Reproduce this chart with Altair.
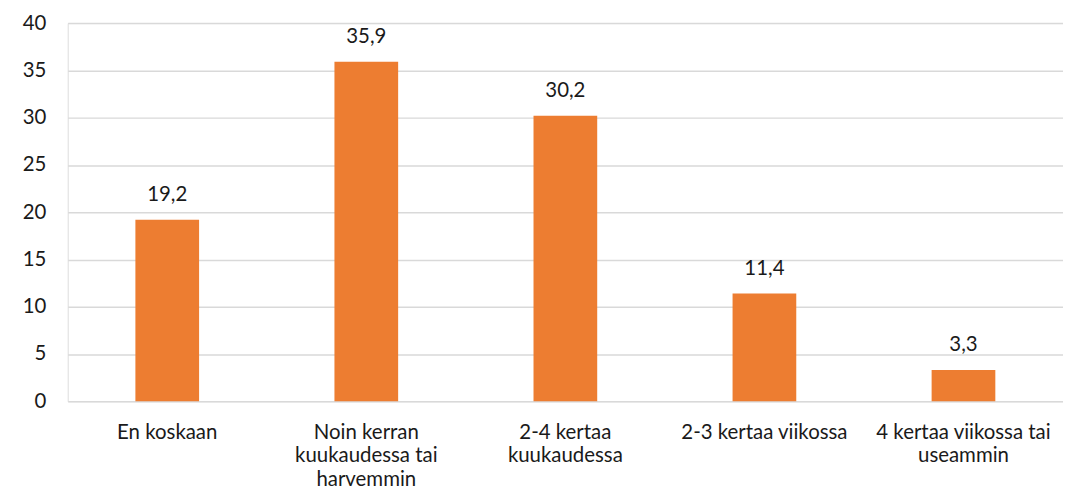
import altair as alt
import pandas as pd
import json

categories = [
    "En koskaan",
    "Noin kerran kuukaudessa tai harvemmin",
    "2-4 kertaa kuukaudessa",
    "2-3 kertaa viikossa",
    "4 kertaa viikossa tai useammin",
]
label_lines = [
    ["En koskaan"],
    ["Noin kerran", "kuukaudessa tai", "harvemmin"],
    ["2-4 kertaa", "kuukaudessa"],
    ["2-3 kertaa viikossa"],
    ["4 kertaa viikossa tai", "useammin"],
]
values = [19.2, 35.9, 30.2, 11.4, 3.3]

df = pd.DataFrame({"cat": categories, "value": values})
label_map = json.dumps(dict(zip(categories, label_lines)), ensure_ascii=False)

FONT = "Lato"
TEXT = "#1a1a1a"
FS = 20.5

x = alt.X(
    "cat:N",
    sort=categories,
    title=None,
    scale=alt.Scale(paddingInner=0.68, paddingOuter=0.34),
    axis=alt.Axis(
        labelAngle=0,
        labelExpr=f"{label_map}[datum.label]",
        labelFont=FONT,
        labelFontSize=FS,
        labelColor=TEXT,
        labelLineHeight=24,
        labelPadding=21,
        labelBaseline="top",
        labelLimit=0,
        ticks=False,
        domain=False,
        grid=False,
    ),
)

bars = alt.Chart(df).mark_bar(color="#ED7D31").encode(
    x=x,
    y=alt.Y(
        "value:Q",
        title=None,
        scale=alt.Scale(domain=[0, 40]),
        axis=alt.Axis(
            values=[0, 5, 10, 15, 20, 25, 30, 35, 40],
            labelFont=FONT,
            labelFontSize=FS,
            labelColor=TEXT,
            labelPadding=22,
            ticks=False,
            domain=False,
            grid=True,
            gridColor="#D9D9D9",
            gridWidth=1.5,
        ),
    ),
)

labels = alt.Chart(df).transform_calculate(
    lab="replace(format(datum.value, '.1f'), '.', ',')"
).mark_text(
    font=FONT, fontSize=FS, color=TEXT, baseline="bottom", dy=-15
).encode(
    x=alt.X("cat:N", sort=categories),
    y="value:Q",
    text="lab:N",
)

chart = (
    alt.layer(bars, labels)
    .properties(
        width=1000,
        height=380,
        autosize=alt.AutoSizeParams(type="none"),
        padding={"left": 60, "top": 14, "right": 0, "bottom": 90},
    )
    .configure_view(stroke=None)
    .configure(background="white")
)

chart.save("out.html", embed_options={"renderer": "svg", "actions": False})
